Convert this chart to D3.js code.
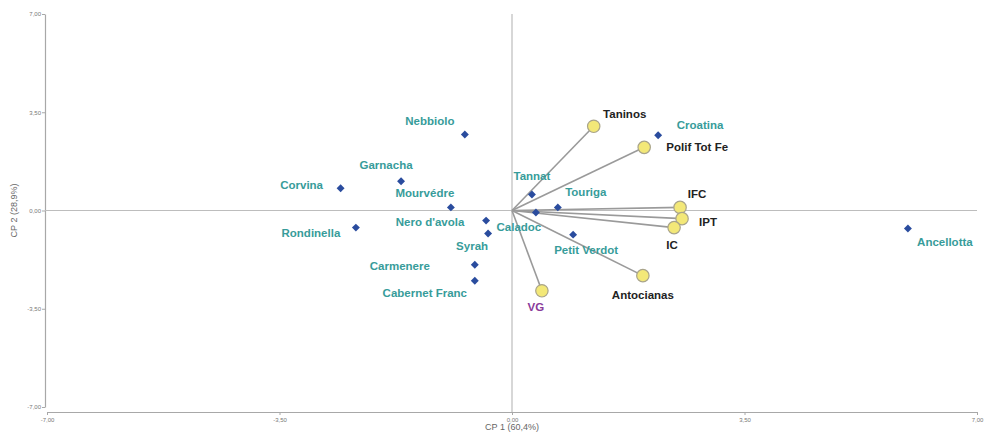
<!DOCTYPE html>
<html>
<head>
<meta charset="utf-8">
<script src="https://cdn.jsdelivr.net/npm/d3@7"></script>
<style>
  html, body { margin: 0; padding: 0; background: #fff; }
  svg { display: block; }
</style>
</head>
<body>
<svg id="chart" width="987" height="437"></svg>
<script>
// Cultivar scores on the first two principal components
const cultivars = ["Nebbiolo", "Garnacha", "Corvina", "Mourvédre", "Nero d'avola", "Rondinella",
  "Syrah", "Carmenere", "Cabernet Franc", "Tannat", "Caladoc", "Touriga", "Petit Verdot",
  "Croatina", "Ancellotta"];
const cultivarCP1 = [-0.71, -1.67, -2.58, -0.92, -0.39, -2.35, -0.36, -0.56, -0.56, 0.30, 0.36, 0.69, 0.92, 2.20, 5.96];
const cultivarCP2 = [2.71, 1.04, 0.79, 0.11, -0.36, -0.61, -0.82, -1.93, -2.50, 0.57, -0.07, 0.11, -0.86, 2.68, -0.64];

// Variable loadings (scaled) drawn as vectors from the origin
const variables = ["Taninos", "Polif Tot Fe", "IFC", "IPT", "IC", "Antocianas", "VG"];
const variableCP1 = [1.23, 1.99, 2.53, 2.56, 2.44, 1.97, 0.45];
const variableCP2 = [3.00, 2.25, 0.11, -0.29, -0.61, -2.32, -2.86];

// Axis ticks
const tickValues = [-7, -3.5, 0, 3.5, 7];
const tickLabels = ["-7,00", "-3,50", "0,00", "3,50", "7,00"];

// Label placement relative to each mark (dx, dy to text baseline centre)
const cultivarLabelOffsets = [[-35, -9], [-15, -12], [-39, 1], [-26, -10], [-56, 5], [-45, 9],
  [-16, 16], [-75, 5], [-50, 16], [0, -14], [-17, 19], [28, -11], [13, 19], [42, -6], [37, 18]];
const variableLabelOffsets = [[31, -8], [53, 4], [17, -9], [26, 7], [-2, 21], [0, 23], [-6, 20]];

const svg = d3.select("#chart");
const x = d3.scaleLinear().domain([-7, 7]).range([47, 977]);
const y = d3.scaleLinear().domain([-7, 7]).range([407, 14]);

const axisColor = "#a8a8a8";
const fmt = d => tickLabels[tickValues.indexOf(d)];

// Y axis (offset left of plot)
const yAxis = svg.append("g")
  .attr("transform", "translate(45,0)")
  .call(d3.axisLeft(y).tickValues(tickValues).tickFormat(fmt).tickSize(3).tickSizeOuter(0));
// X axis (below plot)
const xAxis = svg.append("g")
  .attr("transform", "translate(0,412)")
  .call(d3.axisBottom(x).tickValues(tickValues).tickFormat(fmt).tickSize(3).tickSizeOuter(0));

[yAxis, xAxis].forEach(g => {
  g.select(".domain").attr("stroke", axisColor).attr("stroke-width", 1.2);
  g.selectAll(".tick line").attr("stroke", axisColor);
  g.selectAll(".tick text").attr("fill", "#777").attr("font-size", 6)
    .attr("font-family", "Liberation Sans, Arial, sans-serif");
});
yAxis.selectAll(".tick text").attr("x", -4);
xAxis.selectAll(".tick text").attr("y", 6);

// Zero reference lines
svg.append("line")
  .attr("x1", 45).attr("x2", x(7)).attr("y1", y(0)).attr("y2", y(0))
  .attr("stroke", "#bdbdbd").attr("stroke-width", 1.2);
svg.append("line")
  .attr("x1", x(0)).attr("x2", x(0)).attr("y1", y(7)).attr("y2", 412)
  .attr("stroke", "#bdbdbd").attr("stroke-width", 1.2);

// Axis titles
svg.append("text")
  .attr("x", x(0)).attr("y", 430)
  .attr("text-anchor", "middle")
  .attr("font-family", "Liberation Sans, Arial, sans-serif")
  .attr("font-size", 9).attr("fill", "#666")
  .text("CP 1 (60,4%)");
svg.append("text")
  .attr("transform", `translate(17,${y(0)}) rotate(-90)`)
  .attr("text-anchor", "middle")
  .attr("font-family", "Liberation Sans, Arial, sans-serif")
  .attr("font-size", 9).attr("fill", "#666")
  .text("CP 2 (28,9%)");

const variableData = variables.map((name, i) => ({
  name, cp1: variableCP1[i], cp2: variableCP2[i], off: variableLabelOffsets[i]
}));
const cultivarData = cultivars.map((name, i) => ({
  name, cp1: cultivarCP1[i], cp2: cultivarCP2[i], off: cultivarLabelOffsets[i]
}));

// Loading vectors
svg.append("g").selectAll("line")
  .data(variableData).join("line")
  .attr("x1", x(0)).attr("y1", y(0))
  .attr("x2", d => x(d.cp1)).attr("y2", d => y(d.cp2))
  .attr("stroke", "#9a9a9a").attr("stroke-width", 1.6);

// Cultivar diamonds
svg.append("g").selectAll("path")
  .data(cultivarData).join("path")
  .attr("transform", d => `translate(${x(d.cp1)},${y(d.cp2)})`)
  .attr("d", d3.symbol(d3.symbolDiamond2, 40))
  .attr("fill", "#2a4c9e");

// Variable circles
svg.append("g").selectAll("circle")
  .data(variableData).join("circle")
  .attr("cx", d => x(d.cp1)).attr("cy", d => y(d.cp2))
  .attr("r", 6.2)
  .attr("fill", "#f3e878").attr("stroke", "#a9a48a").attr("stroke-width", 1.2);

// Labels
svg.append("g").selectAll("text")
  .data(cultivarData).join("text")
  .attr("x", d => x(d.cp1) + d.off[0]).attr("y", d => y(d.cp2) + d.off[1])
  .attr("text-anchor", "middle")
  .attr("font-family", "Liberation Sans, Arial, sans-serif")
  .attr("font-weight", "bold").attr("font-size", 11.5)
  .attr("fill", "#379c9a")
  .text(d => d.name);

svg.append("g").selectAll("text")
  .data(variableData).join("text")
  .attr("x", d => x(d.cp1) + d.off[0]).attr("y", d => y(d.cp2) + d.off[1])
  .attr("text-anchor", "middle")
  .attr("font-family", "Liberation Sans, Arial, sans-serif")
  .attr("font-weight", "bold").attr("font-size", 11.5)
  .attr("fill", d => d.name === "VG" ? "#8a3a9a" : "#222")
  .text(d => d.name);
</script>
</body>
</html>
